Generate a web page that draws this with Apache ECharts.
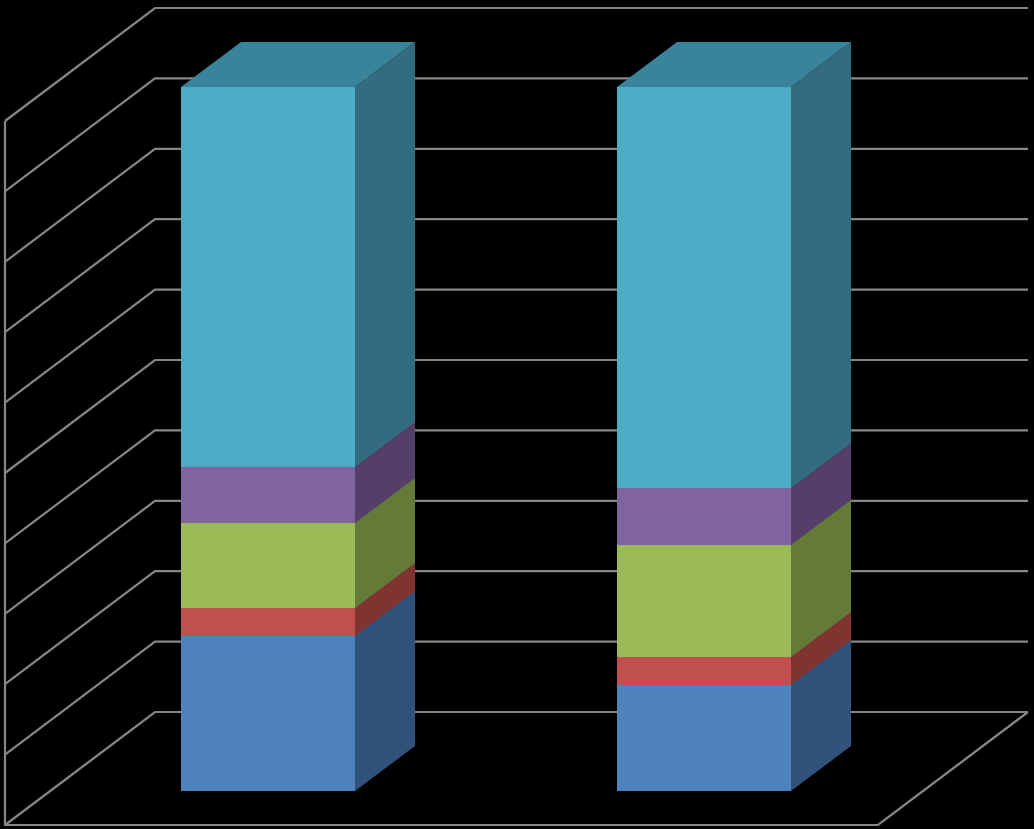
<!DOCTYPE html>
<html>
<head>
<meta charset="utf-8">
<style>html,body{margin:0;padding:0;background:#000;overflow:hidden}#c{width:1034px;height:829px}</style>
<script src="https://cdn.jsdelivr.net/npm/echarts@6/dist/echarts.min.js"></script>
</head>
<body>
<div id="c"></div>
<script>
const categories = ['Category 1', 'Category 2'];
const seriesA = [22, 15];
const seriesB = [4, 4];
const seriesC = [12, 16];
const seriesD = [8, 8];
const seriesE = [54, 57];
const gridTicks = [0, 10, 20, 30, 40, 50, 60, 70, 80, 90, 100];

const stacks = [
  { name: 'Series A', values: seriesA, front: '#4f81bd', side: '#31537b' },
  { name: 'Series B', values: seriesB, front: '#c0504d', side: '#7f3431' },
  { name: 'Series C', values: seriesC, front: '#9bbb59', side: '#647a38' },
  { name: 'Series D', values: seriesD, front: '#8064a2', side: '#543f6b' },
  { name: 'Series E', values: seriesE, front: '#4bacc6', side: '#326c7e', top: '#39849a' }
];

// Oblique projection used by the 3D look
const barDepth = [60, -45];
const wallDepth = [150, -113];
const wallFrontDrop = 34;
const wallLeftShift = -45;
const wallRightShift = -44;
const lineColor = '#868686';
const lineWidth = 2.2;

function wallItem(params, api) {
  const v = api.value(0);
  const cs = params.coordSys;
  const xF0 = cs.x + wallLeftShift;
  const xF1 = cs.x + cs.width + wallRightShift;
  const y = api.coord([0, v])[1] + wallFrontDrop;
  const children = [{
    type: 'polyline',
    shape: { points: [[xF0, y], [xF0 + wallDepth[0], y + wallDepth[1]], [xF1 + wallDepth[0], y + wallDepth[1]]] },
    style: { stroke: lineColor, lineWidth: lineWidth, fill: 'none' }
  }];
  if (v === 0) {
    const yTop = api.coord([0, 100])[1] + wallFrontDrop;
    children.push({
      type: 'polyline',
      shape: { points: [[xF0, yTop], [xF0, y], [xF1, y], [xF1 + wallDepth[0], y + wallDepth[1]]] },
      style: { stroke: lineColor, lineWidth: lineWidth, fill: 'none' }
    });
  }
  return { type: 'group', children: children };
}

function barItem(stack) {
  return function (params, api) {
    const c = api.value(0);
    const p0 = api.coord([c, api.value(1)]);
    const p1 = api.coord([c, api.value(2)]);
    const w = api.size([1, 0])[0] * 0.4;
    // Snap to whole pixels so that nothing behind shows through the edges
    const l = Math.round(p0[0] - w / 2), r = Math.round(p0[0] + w / 2);
    const y0 = Math.round(p0[1]), y1 = Math.round(p1[1]);
    const dx = barDepth[0], dy = barDepth[1];
    // Side faces overlap the next one up by a pixel, which paints over it
    const ySide = stack.top ? y1 : y1 - 1;
    const children = [
      { type: 'polygon', shape: { points: [[r, y0], [r + dx, y0 + dy], [r + dx, ySide + dy], [r, ySide]] },
        style: { fill: stack.side } },
      { type: 'polygon', shape: { points: [[l, y0], [r, y0], [r, y1], [l, y1]] },
        style: { fill: stack.front } }
    ];
    if (stack.top) {
      children.push({ type: 'polygon', shape: { points: [[l, y1], [r, y1], [r + dx, y1 + dy], [l + dx, y1 + dy]] },
        style: { fill: stack.top } });
    }
    return { type: 'group', children: children };
  };
}

const running = categories.map(() => 0);
const barSeries = stacks.map(function (s) {
  const data = s.values.map(function (v, i) {
    const start = running[i];
    running[i] += v;
    return [i, start, running[i]];
  });
  return {
    type: 'custom', name: s.name, data: data, renderItem: barItem(s), silent: true, animation: false,
    encode: { x: 0, y: [1, 2] }
  };
});

const chart = echarts.init(document.getElementById('c'), null, { renderer: 'canvas' });
chart.setOption({
  backgroundColor: '#000000',
  animation: false,
  grid: { left: 50, top: 87, width: 872, height: 704, containLabel: false },
  xAxis: { type: 'category', data: categories, show: false },
  yAxis: { type: 'value', min: 0, max: 100, interval: 10, show: false },
  series: [{
    type: 'custom', name: 'Walls', data: gridTicks.map(t => [t]), renderItem: wallItem,
    silent: true, animation: false, encode: { y: 0 }
  }].concat(barSeries)
});
</script>
</body>
</html>
